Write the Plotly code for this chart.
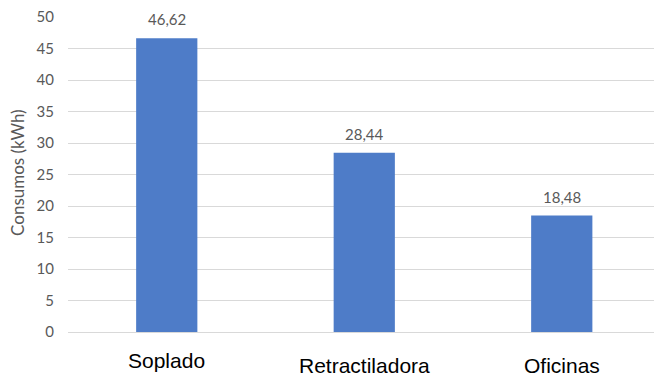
import plotly.graph_objects as go

categories = ["Soplado", "Retractiladora", "Oficinas"]
values = [46.62, 28.44, 18.48]
y_ticks = [0, 5, 10, 15, 20, 25, 30, 35, 40, 45, 50]

# styling (not data)
bar_color = "#4E7CC8"
label_color = "#595959"
cat_label_shift = [-28, -33, -33]

fig = go.Figure()
fig.add_trace(go.Bar(
    x=categories, y=values, width=0.31,
    marker=dict(color=bar_color, line=dict(width=0)),
    hoverinfo="skip",
))

annotations = []
for c, v in zip(categories, values):
    annotations.append(dict(
        x=c, y=v, xref="x", yref="y", text=f"{v:.2f}".replace(".", ","),
        showarrow=False, yanchor="middle", yshift=19,
        font=dict(family="Lato", size=15, color=label_color),
    ))
for c, s in zip(categories, cat_label_shift):
    annotations.append(dict(
        x=c, y=0, xref="x", yref="paper", text=c,
        showarrow=False, yanchor="middle", yshift=s,
        font=dict(family="Liberation Sans", size=21, color="#000000"),
    ))
annotations.append(dict(
    x=0, y=0.505, xref="paper", yref="paper", text="Consumos (kWh)",
    showarrow=False, textangle=-90, xanchor="center", yanchor="middle", xshift=-50,
    font=dict(family="Lato", size=17, color=label_color),
))

fig.update_layout(
    width=654, height=376,
    margin=dict(l=68, r=0, t=17, b=44),
    paper_bgcolor="white", plot_bgcolor="white",
    showlegend=False,
    annotations=annotations,
    xaxis=dict(
        range=[-0.5, 2.467], showticklabels=False, showgrid=False,
        zeroline=False, showline=False, ticks="",
    ),
    yaxis=dict(
        range=[0, 50], tickvals=y_ticks, ticktext=[str(t) for t in y_ticks],
        showgrid=True, gridcolor="#D9D9D9", gridwidth=1,
        zeroline=True, zerolinecolor="#D9D9D9", zerolinewidth=1,
        showline=False, ticks="", ticklabelstandoff=13,
        tickfont=dict(family="Lato", size=15, color=label_color),
    ),
)

fig.write_html("out.html")
